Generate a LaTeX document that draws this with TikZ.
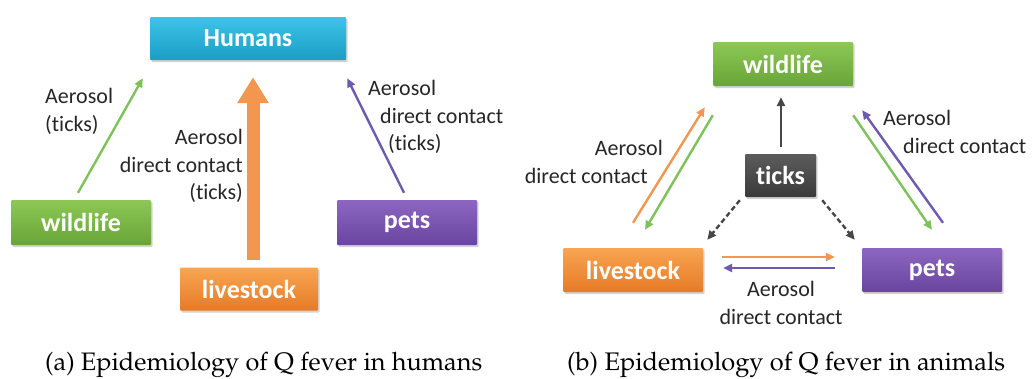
\documentclass[tikz,border=0pt]{standalone}
\usepackage{fontspec}
\usepackage{graphicx}
\newfontfamily\calib[Ligatures=NoCommon]{Carlito}
\newcommand\capfont{\fontencoding{OT1}\fontfamily{ppl}\selectfont}
\usetikzlibrary{arrows.meta,shadows}
\definecolor{cyanA}{HTML}{3CC4E8}
\definecolor{cyanB}{HTML}{1C9DC4}
\definecolor{greenA}{HTML}{8DC856}
\definecolor{greenB}{HTML}{68A537}
\definecolor{orangeA}{HTML}{F8A552}
\definecolor{orangeB}{HTML}{E77A26}
\definecolor{purpA}{HTML}{8C66C0}
\definecolor{purpB}{HTML}{6A45A0}
\definecolor{grayA}{HTML}{5C5C5C}
\definecolor{grayB}{HTML}{3A3A3A}
\definecolor{agreen}{HTML}{7EC35A}
\definecolor{aorange}{HTML}{F29650}
\definecolor{apurple}{HTML}{6E5AB0}
\definecolor{agray}{HTML}{474747}
\definecolor{txt}{HTML}{262626}
\tikzset{
  box/.style={inner sep=0pt, text=white, rounded corners=1pt,
    font=\calib\bfseries\fontsize{26}{30}\selectfont,
    drop shadow={opacity=0.35, shadow xshift=1.5pt, shadow yshift=-2pt}},
  cyanbox/.style={box, top color=cyanA, bottom color=cyanB},
  greenbox/.style={box, top color=greenA, bottom color=greenB},
  orangebox/.style={box, top color=orangeA, bottom color=orangeB},
  purpbox/.style={box, top color=purpA, bottom color=purpB},
  graybox/.style={box, top color=grayA, bottom color=grayB},
  lbl/.style={inner sep=0pt, text=txt, font=\calib\fontsize{22}{27.5}\selectfont},
  conn/.style={line width=2.4pt, -{Triangle[length=9pt,width=8pt]}},
  dconn/.style={conn, dash pattern=on 5pt off 3pt},
  captext/.style={inner sep=0pt, anchor=base west, text=black},
}
\begin{document}
\begin{tikzpicture}[x=1pt,y=-1pt]
\useasboundingbox (0,0) rectangle (1035,378);
% ---------- panel (a)
\node[cyanbox, minimum width=196pt, minimum height=43pt] (hum) at (248,38.5) {Humans};
\node[greenbox, minimum width=140pt, minimum height=45pt] (wild) at (81,222.5) {wildlife};
\node[orangebox, minimum width=138pt, minimum height=43pt] (live) at (249,289) {livestock};
\node[purpbox, minimum width=140pt, minimum height=45pt] (pets) at (407,222.5) {pets};

\draw[conn, agreen] ([xshift=-3pt,yshift=7pt]wild.north) -- ([xshift=-7pt,yshift=-18pt]hum.south west);
\draw[line width=13pt, aorange, -{Triangle[length=26pt,width=30pt]}]
  ([xshift=4pt,yshift=7pt]live.north) -- ([xshift=5pt,yshift=-17pt]hum.south);
\draw[conn, apurple] ([xshift=-3pt,yshift=7pt]pets.north) -- ([xshift=1pt,yshift=-18pt]hum.south east);

\node[lbl, anchor=west, align=left] (la1) at (45,111.5) {Aerosol\\(ticks)};
\node[lbl, anchor=east, align=right] (la2) at (243,166) {Aerosol\\direct contact\\(ticks)};
\node[lbl, anchor=west, align=left] (la3) at (368,117) {Aerosol\\\hspace*{12pt}direct contact\\\hspace*{20pt}(ticks)};

% ---------- panel (b)
\node[greenbox, minimum width=140pt, minimum height=44pt] (wild2) at (783,64) {wildlife};
\node[graybox, minimum width=71pt, minimum height=43pt] (ticks) at (780.5,175.5) {ticks};
\node[orangebox, minimum width=140pt, minimum height=44pt] (live2) at (633,270) {livestock};
\node[purpbox, minimum width=140pt, minimum height=44pt] (pets2) at (932,270) {pets};

\draw[conn, agray] ([xshift=0.5pt,yshift=7pt]ticks.north) -- ([xshift=-2pt,yshift=-11pt]wild2.south);
\draw[dconn, agray] ([xshift=-5pt,yshift=-3pt]ticks.south west) -- ([xshift=4pt,yshift=8pt]live2.north east);
\draw[dconn, agray] ([xshift=6pt,yshift=-3pt]ticks.south east) -- ([xshift=-7pt,yshift=8pt]pets2.north west);

\draw[conn, aorange] ([yshift=25pt]live2.north) -- ([xshift=-8pt,yshift=-21pt]wild2.south west);
\draw[conn, agreen] ([yshift=-29pt]wild2.south west) -- ([xshift=12pt,yshift=18pt]live2.north);
\draw[conn, apurple] ([xshift=11pt,yshift=25pt]pets2.north) -- ([xshift=9pt,yshift=-24pt]wild2.south east);
\draw[conn, agreen] ([yshift=-29pt]wild2.south east) -- ([yshift=18pt]pets2.north);
\draw[conn, aorange] ([xshift=19pt,yshift=13pt]live2.east) -- ([xshift=-27pt,yshift=13pt]pets2.west);
\draw[conn, apurple] ([xshift=-27pt,yshift=2pt]pets2.west) -- ([xshift=20pt,yshift=2pt]live2.east);

\node[lbl, anchor=east, align=right] (lb1) at (663,162) {Aerosol\\direct contact\hspace*{15pt}};
\node[lbl, anchor=west, align=left] (lb2) at (883,132) {Aerosol\\\hspace*{20pt}direct contact};
\node[lbl, align=center] (lb3) at (781,303) {Aerosol\\direct contact};

% ---------- captions
\node[captext] (capa) at (45,370) {\resizebox{437pt}{!}{\capfont\fontsize{26}{30}\selectfont (a) Epidemiology of Q fever in humans}};
\node[captext] (capb) at (567,370) {\resizebox{438pt}{!}{\capfont\fontsize{26}{30}\selectfont (b) Epidemiology of Q fever in animals}};
\end{tikzpicture}
\end{document}
